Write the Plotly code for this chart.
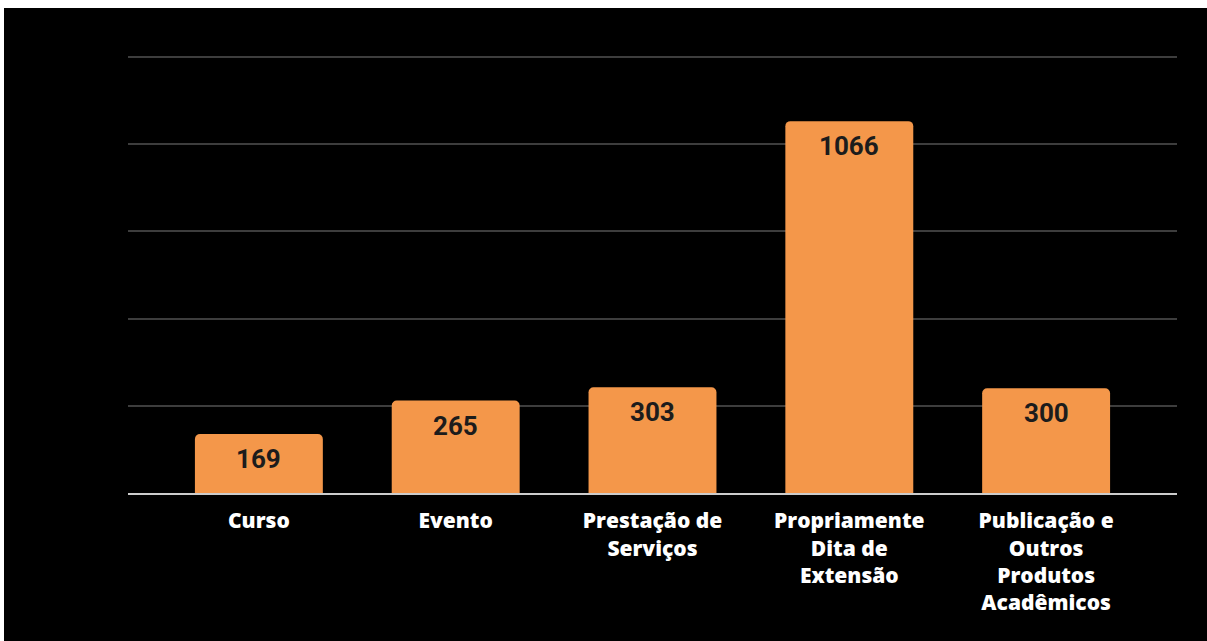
import plotly.graph_objects as go

categories = ["Curso", "Evento", "Prestação de<br>Serviços",
              "Propriamente<br>Dita de<br>Extensão",
              "Publicação e<br>Outros<br>Produtos<br>Acadêmicos"]
values = [169, 265, 303, 1066, 300]
y_ticks = [0, 250, 500, 750, 1000, 1250]

BAR = "#F4974A"
W, H = 1207, 641
L, R, T, B = 128, 1177, 50, 493

fig = go.Figure()
fig.add_trace(go.Bar(
    x=categories, y=values, marker=dict(color=BAR, line=dict(width=0)),
    width=0.65, hoverinfo="skip",
))
for c, v in zip(categories, values):
    fig.add_annotation(x=c, y=v, text=str(v), showarrow=False, yanchor="top",
                       yshift=-8, font=dict(family="Roboto", size=26, color="#1c1c1c", weight="bold"))

pw, ph = R - L, B - T
fig.add_shape(type="rect", xref="paper", yref="paper", layer="below",
              x0=(4 - L) / pw, x1=(W + 5 - L) / pw,
              y0=(B - H - 5) / ph, y1=(B - 8) / ph,
              fillcolor="black", line=dict(width=0))

fig.update_layout(
    width=W, height=H,
    margin=dict(l=L, r=W - R, t=T, b=H - B, pad=0),
    paper_bgcolor="white", plot_bgcolor="black",
    barcornerradius=5,
    showlegend=False,
    xaxis=dict(range=[-0.665, 4.665], showgrid=False, showline=True,
               linecolor="#cccccc", linewidth=2, zeroline=False,
               tickfont=dict(family="Open Sans", size=21, color="white", weight=800),
               ticks="outside", ticklen=8, tickcolor="rgba(0,0,0,0)"),
    yaxis=dict(range=[0, 1270], tickvals=y_ticks, showticklabels=False,
               gridcolor="#3d3d3d", gridwidth=2, zeroline=False, showline=False),
)
fig.write_html("out.html", config={"displayModeBar": False},
               post_script="document.body.style.margin='0';")
